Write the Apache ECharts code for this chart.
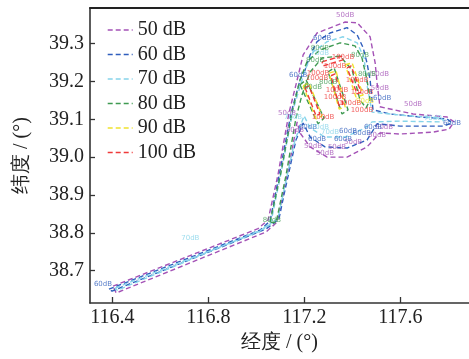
<!DOCTYPE html>
<html><head><meta charset="utf-8">
<script src="https://cdn.jsdelivr.net/npm/echarts@6/dist/echarts.min.js"></script>
<style>html,body{margin:0;padding:0;background:#fff}#c{width:469px;height:359px}</style>
</head><body><div id="c"></div>
<script>
// ---- data (longitude, latitude) ----
const levels = ['50 dB', '60 dB', '70 dB', '80 dB', '90 dB', '100 dB'];
const xTicks = [116.4, 116.8, 117.2, 117.6];
const yTicks = [38.7, 38.8, 38.9, 39.0, 39.1, 39.2, 39.3];

const c50 = [[
  [116.403,38.659],[117.007,38.811],[117.049,38.834],[117.090,38.953],[117.136,39.117],
  [117.165,39.191],[117.195,39.270],[117.253,39.328],[117.370,39.357],[117.420,39.355],
  [117.474,39.318],[117.495,39.249],[117.503,39.196],[117.515,39.133],[117.653,39.114],
  [117.795,39.106],[117.824,39.093],[117.803,39.074],[117.736,39.066],[117.599,39.061],
  [117.515,39.064],[117.461,39.027],[117.378,39.000],[117.295,39.000],[117.224,39.027],
  [117.182,39.064],[117.170,39.093],[117.149,39.019],[117.107,38.887],[117.086,38.828],
  [117.040,38.802],[116.416,38.641],[116.403,38.659]
]];
const c60 = [[
  [116.386,38.651],[117.015,38.807],[117.057,38.831],[117.097,38.958],[117.145,39.117],
  [117.182,39.204],[117.203,39.230],[117.224,39.270],[117.253,39.305],[117.307,39.328],
  [117.378,39.342],[117.420,39.323],[117.445,39.289],[117.461,39.249],[117.474,39.204],
  [117.486,39.125],[117.557,39.114],[117.682,39.106],[117.795,39.101],[117.815,39.090],
  [117.778,39.082],[117.599,39.082],[117.503,39.088],[117.461,39.045],[117.378,39.024],
  [117.286,39.027],[117.224,39.053],[117.195,39.090],[117.165,39.045],[117.115,38.900],
  [117.094,38.836],[117.040,38.810],[116.399,38.646],[116.386,38.651]
]];
const c70 = [[
  [116.412,38.654],[117.015,38.804],[117.061,38.828],[117.103,38.958],[117.153,39.125],
  [117.203,39.230],[117.236,39.278],[117.295,39.305],[117.361,39.318],[117.420,39.302],
  [117.449,39.262],[117.461,39.191],[117.482,39.119],[117.599,39.111],[117.765,39.103],
  [117.782,39.098],[117.765,39.093],[117.599,39.095],[117.482,39.093],[117.453,39.077],
  [117.370,39.053],[117.286,39.053],[117.224,39.077],[117.199,39.109],[117.161,39.045],
  [117.115,38.913],[117.090,38.839],[117.036,38.812],[116.420,38.648],[116.412,38.654]
]];
const c80 = [[
  [117.057,38.828],[117.103,38.961],[117.149,39.119],[117.182,39.204],[117.211,39.252],
  [117.265,39.283],[117.349,39.302],[117.411,39.294],[117.440,39.262],[117.461,39.204],
  [117.474,39.151],[117.457,39.130],[117.432,39.151],[117.399,39.230],[117.349,39.267],
  [117.274,39.262],[117.224,39.225],[117.190,39.164],[117.165,39.103],[117.124,38.953],
  [117.082,38.826],[117.057,38.828]
],[
  [117.182,39.191],[117.207,39.204],[117.282,39.103],[117.257,39.088],[117.182,39.191]
],[
  [117.299,39.225],[117.324,39.236],[117.382,39.125],[117.357,39.114],[117.299,39.225]
]];
const c90 = [[
  [117.195,39.188],[117.219,39.196],[117.274,39.109],[117.249,39.101],[117.195,39.188]
],[
  [117.303,39.222],[117.332,39.228],[117.370,39.133],[117.345,39.127],[117.303,39.222]
],[
  [117.370,39.244],[117.399,39.249],[117.445,39.164],[117.415,39.159],[117.370,39.244]
]];
const c100 = [[
  [117.203,39.183],[117.219,39.188],[117.265,39.114],[117.249,39.109],[117.203,39.183]
],[
  [117.311,39.215],[117.328,39.220],[117.361,39.140],[117.345,39.135],[117.311,39.215]
],[
  [117.378,39.236],[117.395,39.241],[117.436,39.172],[117.420,39.167],[117.378,39.236]
],[
  [117.274,39.252],[117.357,39.267],[117.361,39.257],[117.278,39.241],[117.274,39.252]
]];

// contour labels [lon, lat, text]
const lab50 = [[117.370,39.376,'50dB'],[117.515,39.220,'50dB'],[117.515,39.183,'50dB'],
  [117.653,39.140,'50dB'],[117.128,39.117,'50dB'],[117.161,39.072,'50dB'],[117.532,39.080,'50dB'],
  [117.236,39.029,'50dB'],[117.336,39.027,'50dB'],[117.286,39.011,'50dB'],[117.403,39.040,'50dB'],
  [117.503,39.058,'50dB']];
const lab60 = [[117.274,39.315,'60dB'],[117.174,39.217,'60dB'],[117.524,39.156,'60dB'],
  [117.815,39.090,'60dB'],[117.215,39.080,'60dB'],[117.486,39.080,'60dB'],[117.382,39.069,'60dB'],
  [117.440,39.064,'60dB'],[117.253,39.048,'60dB'],[117.361,39.048,'60dB'],[116.361,38.664,'60dB']];
const lab70 = [[117.265,39.275,'70dB'],[117.153,39.106,'70dB'],[117.736,39.103,'70dB'],
  [117.265,39.080,'70dB'],[117.307,39.066,'70dB'],[116.725,38.786,'70dB']];
const lab80 = [[117.265,39.289,'80dB'],[117.245,39.257,'80dB'],[117.432,39.270,'80dB'],
  [117.299,39.199,'80dB'],[117.461,39.220,'80dB'],[117.236,39.185,'80dB'],[117.065,38.833,'80dB']];
const lab90 = [[117.453,39.148,'90dB']];
const lab100 = [[117.361,39.265,'100dB'],[117.328,39.241,'100dB'],[117.257,39.222,'100dB'],
  [117.253,39.209,'100dB'],[117.420,39.204,'100dB'],[117.336,39.178,'100dB'],[117.328,39.159,'100dB'],
  [117.440,39.172,'100dB'],[117.390,39.143,'100dB'],[117.440,39.125,'100dB'],[117.278,39.106,'100dB']];

// ---- styling ----
const colors = ['#a452b6', '#2f5ebd', '#86d4ea', '#3f9a52', '#f0e22e', '#ef3a3a'];
const contours = [c50, c60, c70, c80, c90, c100];
const labels = [lab50, lab60, lab70, lab80, lab90, lab100];
const X0 = 116.307, X1 = 117.886, Y0 = 38.6145, Y1 = 39.394;
const serif = 'Times New Roman, Liberation Serif, DejaVu Serif, serif';

const series = [];
contours.forEach((lines, i) => {
  lines.forEach(pts => {
    series.push({
      type: 'line', name: levels[i], data: pts, symbol: 'none', silent: true,
      lineStyle: { color: colors[i], width: 1.4, type: [5, 3] },
      itemStyle: { color: colors[i] }, z: 2 + i, animation: false
    });
  });
});
labels.forEach((arr, i) => {
  series.push({
    type: 'scatter', name: 'lbl' + i, data: arr, symbolSize: 0, silent: true, z: 10,
    label: { show: true, position: 'inside', formatter: p => p.data[2], fontSize: 7,
      color: colors[i], fontFamily: 'DejaVu Sans, sans-serif' },
    animation: false
  });
});

const chart = echarts.init(document.getElementById('c'), null, { renderer: 'canvas' });
chart.setOption({
  animation: false,
  grid: { left: 90, right: 0, top: 8, bottom: 56, outerBoundsMode: 'none' },
  legend: {
    data: levels, orient: 'vertical', left: 102, top: 15,
    itemWidth: 25, itemHeight: 12, itemGap: 4.5,
    itemStyle: { opacity: 0 },
    lineStyle: { width: 1.4, type: [5, 3] },
    textStyle: { fontSize: 20, fontFamily: serif, color: '#222' }
  },
  xAxis: [{
    type: 'value', min: X0, max: X1, position: 'bottom',
    name: '经度 / (°)', nameLocation: 'middle', nameGap: 29,
    nameTextStyle: { fontSize: 20, fontFamily: serif, color: '#222' },
    axisLine: { show: true, onZero: false, lineStyle: { color: '#333', width: 1.6 } },
    axisTick: { show: true, inside: true, length: 6, customValues: xTicks, lineStyle: { color: '#333', width: 1.3 } },
    axisLabel: { customValues: xTicks, fontSize: 20, fontFamily: serif, color: '#222', margin: 5,
      formatter: v => v.toFixed(1) },
    splitLine: { show: false }
  }, {
    type: 'value', min: X0, max: X1, position: 'top',
    axisLine: { show: true, onZero: false, lineStyle: { color: '#222', width: 2 } },
    axisTick: { show: false }, axisLabel: { show: false }, splitLine: { show: false }
  }],
  yAxis: {
    type: 'value', min: Y0, max: Y1,
    name: '纬度 / (°)', nameLocation: 'middle', nameGap: 58,
    nameTextStyle: { fontSize: 20, fontFamily: serif, color: '#222' },
    axisLine: { show: true, onZero: false, lineStyle: { color: '#333', width: 1.6 } },
    axisTick: { show: true, inside: true, length: 5, customValues: yTicks, lineStyle: { color: '#333', width: 1.3 } },
    axisLabel: { customValues: yTicks, fontSize: 20, fontFamily: serif, color: '#222', margin: 6,
      formatter: v => v.toFixed(1) },
    splitLine: { show: false }
  },
  series: series
});
</script></body></html>
